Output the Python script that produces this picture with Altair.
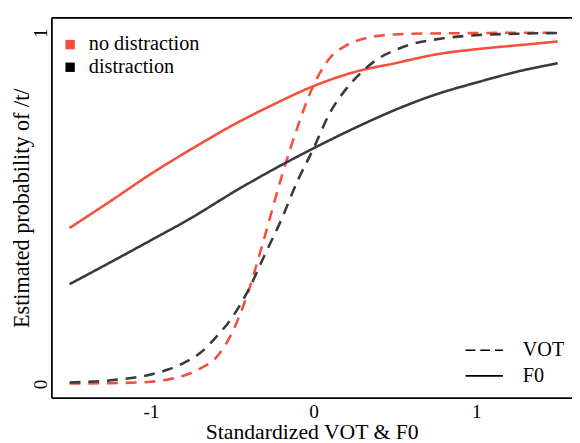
import altair as alt
import pandas as pd

# ---------------- data ----------------
conditions = ["no distraction", "distraction"]
cues = ["VOT", "F0"]

x_f0 = [-1.5, -1.25, -1.0, -0.75, -0.5, -0.25, 0.0, 0.25, 0.5, 0.75, 1.0, 1.25, 1.5]
p_f0_nodist = [0.444, 0.520, 0.598, 0.669, 0.736, 0.795, 0.848, 0.888, 0.913, 0.938, 0.953, 0.964, 0.975]
p_f0_dist = [0.284, 0.346, 0.409, 0.473, 0.544, 0.610, 0.671, 0.728, 0.780, 0.824, 0.858, 0.889, 0.913]

x_vot = [-1.5, -1.25, -1.0, -0.9, -0.8, -0.7, -0.6, -0.5, -0.4, -0.3, -0.2, -0.1,
         0.0, 0.1, 0.2, 0.3, 0.4, 0.5, 0.6, 0.75, 1.0, 1.25, 1.5]
p_vot_nodist = [0.001, 0.002, 0.006, 0.012, 0.023, 0.043, 0.075, 0.147, 0.265, 0.421, 0.585,
                0.730, 0.851, 0.928, 0.964, 0.982, 0.991, 0.995, 0.997, 0.998, 0.999, 1.0, 1.0]
p_vot_dist = [0.004, 0.010, 0.027, 0.040, 0.059, 0.087, 0.133, 0.190, 0.268, 0.368, 0.466,
              0.577, 0.671, 0.772, 0.840, 0.890, 0.927, 0.950, 0.967, 0.981, 0.993, 0.997, 0.999]

x_ticks = [-1, 0, 1]
y_ticks = [0, 1]

rows = []
for cond, cue, xs, ps in [
    (conditions[0], cues[1], x_f0, p_f0_nodist),
    (conditions[0], cues[0], x_vot, p_vot_nodist),
    (conditions[1], cues[1], x_f0, p_f0_dist),
    (conditions[1], cues[0], x_vot, p_vot_dist),
]:
    for xv, pv in zip(xs, ps):
        rows.append({"x": xv, "p": pv, "condition": cond, "cue": cue})
df = pd.DataFrame(rows)

# ---------------- style ----------------
RED = "#F5503C"
DARK = "#3A3A3A"
FONT = "Liberation Serif"
W, H = 528, 385

xscale = alt.Scale(domain=[-1.612, 1.588], nice=False, zero=False)
yscale = alt.Scale(domain=[-0.039, 1.042], nice=False, zero=False)

x_axis = alt.Axis(
    values=x_ticks, title="Standardized VOT & F0", labelExpr="toString(datum.value)",
    ticks=False, tickSize=0, grid=False, domain=True, domainColor="black", domainWidth=1.8,
    labelFont=FONT, labelFontSize=19.5, labelColor="black", labelPadding=20,
    labelBaseline="alphabetic", labelAlign="center",
    titleFont=FONT, titleFontSize=22, titleFontWeight="normal", titleColor="black",
    titleY=42, titleBaseline="alphabetic",
)
y_axis = alt.Axis(
    values=y_ticks, title="Estimated probability of /t/", labelExpr="toString(datum.value)",
    ticks=False, tickSize=0, grid=False, domain=True, domainColor="black", domainWidth=1.8,
    labelFont=FONT, labelFontSize=19.5, labelColor="black", labelPadding=5,
    labelAngle=270, labelAlign="center", labelBaseline="alphabetic",
    titleFont=FONT, titleFontSize=22.5, titleFontWeight="normal", titleColor="black",
    titleAngle=270, titleX=-23, titleY=H / 2, titleAlign="center", titleBaseline="alphabetic",
)


def curve(cond, cue, color):
    dash = [11, 8] if cue == "VOT" else [1, 0]
    return (
        alt.Chart(df)
        .transform_filter((alt.datum.condition == cond) & (alt.datum.cue == cue))
        .mark_line(color=color, strokeWidth=2.6, strokeDash=dash, interpolate="monotone", clip=True)
        .encode(
            x=alt.X("x:Q", scale=xscale, axis=x_axis),
            y=alt.Y("p:Q", scale=yscale, axis=y_axis),
            order="x:Q",
        )
    )


layers = [
    curve(conditions[0], "F0", RED),
    curve(conditions[0], "VOT", RED),
    curve(conditions[1], "F0", DARK),
    curve(conditions[1], "VOT", DARK),
]

# top frame line
layers.append(
    alt.Chart(pd.DataFrame({"a": [0]}))
    .mark_rule(color="black", strokeWidth=1.8)
    .encode(x=alt.value(0), x2=alt.value(W), y=alt.value(0))
)

# colour legend (top-left)
sq_colors = ["#F44B3A", "#000000"]
for i, cond in enumerate(conditions):
    ypos = 27 + 23 * i
    d = pd.DataFrame({"label": [cond]})
    layers.append(
        alt.Chart(d).mark_square(size=90, color=sq_colors[i], opacity=1, filled=True)
        .encode(x=alt.value(19), y=alt.value(ypos))
    )
    layers.append(
        alt.Chart(d).mark_text(font=FONT, fontSize=20.5, align="left", baseline="middle", color="black")
        .encode(x=alt.value(38), y=alt.value(ypos), text="label:N")
    )

# line-type legend (bottom-right)
for i, cue in enumerate(cues):
    ypos = 337 + 26 * i
    d = pd.DataFrame({"label": [cue]})
    dash = [10, 5] if cue == "VOT" else [1, 0]
    layers.append(
        alt.Chart(d).mark_rule(color="black", strokeWidth=1.6, strokeDash=dash)
        .encode(x=alt.value(420), x2=alt.value(458), y=alt.value(ypos))
    )
    layers.append(
        alt.Chart(d).mark_text(font=FONT, fontSize=20.5, align="left", baseline="middle", color="black")
        .encode(x=alt.value(478), y=alt.value(ypos), text="label:N")
    )

chart = (
    alt.layer(*layers)
    .properties(
        width=W, height=H,
        autosize=alt.AutoSizeParams(type="none"),
        padding={"left": 44, "top": 7, "right": 0, "bottom": 45},
        background="white",
    )
    .configure_view(stroke=None)
    .configure_text(font=FONT)
    .configure(font=FONT)
)

chart.save("out.html", embed_options={"renderer": "svg", "actions": False})
